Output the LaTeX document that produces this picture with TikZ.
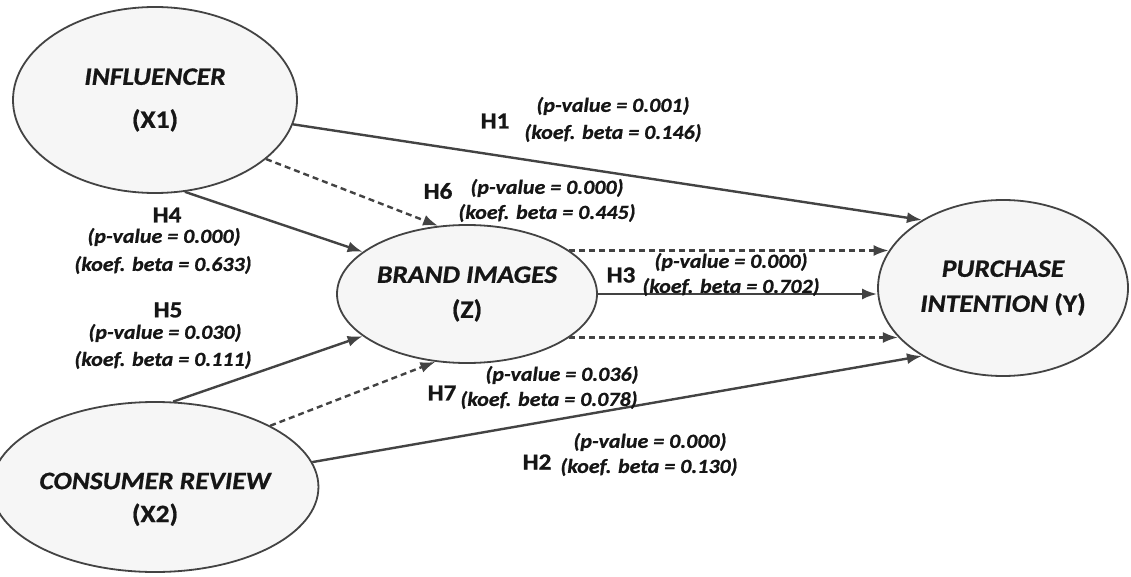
\documentclass[tikz,border=0pt]{standalone}
\usepackage{fontspec}
\setmainfont{Carlito}[FakeStretch=1.1,
    BoldFeatures={FakeBold=0.8},
    BoldItalicFeatures={FakeBold=0.8}]
\usetikzlibrary{shapes,arrows.meta,positioning}

\definecolor{linegray}{HTML}{434343}
\definecolor{ovalfill}{HTML}{F6F6F6}
\definecolor{textdark}{HTML}{161616}

\begin{document}
\begin{tikzpicture}[
    x=1pt, y=-1pt,
    construct/.style={
        ellipse,
        draw=linegray,
        line width=1.8pt,
        fill=ovalfill,
        inner sep=0pt,
        align=center,
        text=textdark,
        font=\fontsize{25}{35}\selectfont\bfseries
    },
    hyp/.style={
        inner sep=0pt,
        text=textdark,
        font=\fontsize{23}{26}\selectfont\bfseries
    },
    stat/.style={
        inner sep=0pt,
        text=textdark,
        font=\fontsize{20}{24}\selectfont\bfseries\itshape
    },
    line/.style={
        draw=linegray, line width=2.4pt, -{Latex[length=15pt,width=11pt]}
    },
    dashedline/.style={
        draw=linegray, line width=2.4pt, dash pattern=on 6pt off 4pt,
        -{Latex[length=15pt,width=11pt]}
    }
]
    \useasboundingbox (0,0) rectangle (1131,577);

    % Nodes
    \node [construct, minimum width=284pt, minimum height=186pt] (infl) at (155,100)
        {\itshape INFLUENCER\\[8pt](X1)};
    \node [construct, minimum width=284pt, minimum height=170pt] (cons) at (155,487)
        {\mbox{}\\[6pt]\itshape CONSUMER REVIEW\\[-2pt](X2)};
    \node [construct, minimum width=260pt, minimum height=138pt] (brand) at (467,294)
        {\itshape BRAND IMAGES\\(Z)};
    \node [construct, minimum width=250pt, minimum height=176pt] (purch) at (1003,288)
        {\itshape PURCHASE\\\itshape INTENTION \upshape(Y)};

    % Edges
    \path [line] (infl.-10) -- (purch.140);
    \path [dashedline] (infl.-28) -- (brand.113);
    \path [line] (infl.-72) -- (brand.158);
    \path [line] (cons.78) -- (brand.-158);
    \path [dashedline] (cons.28) -- (brand.-115);
    \path [line] (cons.9) -- (purch.-140);
    \path [line] (brand.east) -- (brand.east -| purch.west);
    \path [dashedline] (brand.23) -- (brand.23 -| purch.162);
    \path [dashedline] (brand.-23) -- (brand.-23 -| purch.-155);

    % Labels
    \node [hyp] (h1) at (495,121) {H1};
    \node [stat] (h1p) at (613,106) {(p-value = 0.001)};
    \node [stat] (h1b) at (613,133) {(koef. beta = 0.146)};

    \node [hyp] (h6) at (438,191) {H6};
    \node [stat] (h6p) at (547,188) {(p-value = 0.000)};
    \node [stat] (h6b) at (547,213) {(koef. beta = 0.445)};

    \node [hyp] (h4) at (167,215) {H4};
    \node [stat] (h4p) at (164,237) {(p-value = 0.000)};
    \node [stat] (h4b) at (163,265) {(koef. beta = 0.633)};

    \node [hyp] (h5) at (168,310) {H5};
    \node [stat] (h5p) at (165,333) {(p-value = 0.030)};
    \node [stat] (h5b) at (163,360) {(koef. beta = 0.111)};

    \node [hyp] (h3) at (621,275) {H3};
    \node [stat] (h3p) at (731,262) {(p-value = 0.000)};
    \node [stat] (h3b) at (731,287) {(koef. beta = 0.702)};

    \node [hyp] (h7) at (442,393) {H7};
    \node [stat] (h7p) at (562,375) {(p-value = 0.036)};
    \node [stat] (h7b) at (549,400) {(koef. beta = 0.078)};

    \node [hyp] (h2) at (537,462) {H2};
    \node [stat] (h2p) at (650,442) {(p-value = 0.000)};
    \node [stat] (h2b) at (649,467) {(koef. beta = 0.130)};

\end{tikzpicture}
\end{document}
